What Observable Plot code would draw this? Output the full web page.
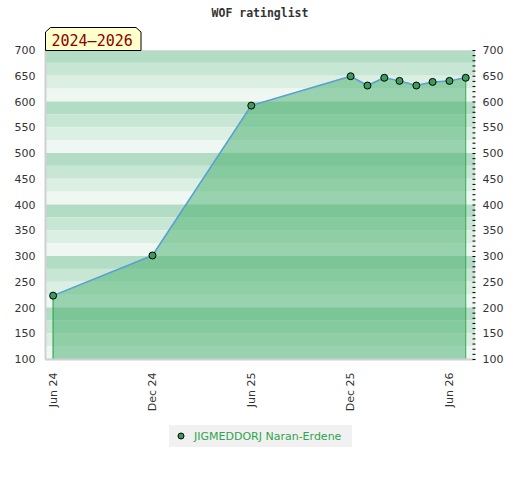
<!DOCTYPE html>
<html>
<head>
<meta charset="utf-8">
<script src="https://cdn.jsdelivr.net/npm/d3@7"></script>
<script src="https://cdn.jsdelivr.net/npm/@observablehq/plot@0.6"></script>
<style>
  html, body { margin: 0; padding: 0; background: #fff; }
  #chart { width: 520px; height: 480px; }
</style>
</head>
<body>
<div id="chart"></div>
<script>
const title = "WOF ratinglist";
const periodLabel = "2024–2026";
const playerName = "JIGMEDDORJ Naran-Erdene";

const months = ["2024-06-01", "2024-12-01", "2025-06-01", "2025-12-01", "2026-01-01",
  "2026-02-01", "2026-03-01", "2026-04-01", "2026-05-01", "2026-06-01", "2026-07-01"];
const ratings = [224, 302, 593, 650, 632, 647, 641, 632, 639, 641, 647];

const xTickDates = ["2024-06-01", "2024-12-01", "2025-06-01", "2025-12-01", "2026-06-01"];
const xTickLabels = ["Jun 24", "Dec 24", "Jun 25", "Dec 25", "Jun 26"];
const yTicks = [100, 150, 200, 250, 300, 350, 400, 450, 500, 550, 600, 650, 700];
const yMinorTicks = d3.range(100, 701, 10);
const bandTops = d3.range(700, 100, -25);
const bandColors = ["#b3dcc4", "#c8e6d4", "#dcefe3", "#eef7f2"];

const data = months.map((m, i) => ({date: new Date(m), rating: ratings[i]}));
const ends = [data[0], data[data.length - 1]];
const xTicks = xTickDates.map((d, i) => ({date: new Date(d), label: xTickLabels[i]}));
const bands = bandTops.map((t, i) => ({top: t, bottom: t - 25, fill: bandColors[i % 4]}));
const xDomain = [new Date("2024-05-18"), new Date("2026-07-19")];

const chart = Plot.plot({
  width: 520,
  height: 480,
  marginTop: 50,
  marginBottom: 121,
  marginLeft: 45,
  marginRight: 45,
  style: {fontFamily: "DejaVu Sans", fontSize: "11px", background: "#fff"},
  x: {type: "utc", domain: xDomain, axis: null},
  y: {domain: [100, 700], axis: null},
  marks: [
    Plot.rect(bands, {y1: "bottom", y2: "top", fill: "fill"}),
    Plot.areaY(data, {x: "date", y1: 100, y2: "rating", fill: "rgb(68,173,105)", fillOpacity: 0.5}),
    Plot.ruleX(ends, {x: "date", y1: 100, y2: "rating", stroke: "#2ea44f", strokeWidth: 1}),
    Plot.line(data, {x: "date", y: "rating", stroke: "#5a9fd8", strokeWidth: 1.5}),
    Plot.dot(data, {x: "date", y: "rating", r: 3.5, fill: "#3a9d5d", stroke: "#000", strokeWidth: 1}),
    Plot.ruleY([100], {stroke: "#d0d0d0", strokeWidth: 2}),
    Plot.ruleY([700], {stroke: "#d8d8d8", strokeWidth: 1}),
    Plot.ruleX([xDomain[0]], {stroke: "#d0d0d0", strokeWidth: 2}),
    Plot.axisY({anchor: "right", ticks: yMinorTicks, tickSize: 3, dx: -3.5, tickFormat: () => "", stroke: "#000"}),
    Plot.text(yTicks, {y: d => d, text: d => String(d), frameAnchor: "left", dx: -10, textAnchor: "end", fill: "#333", fontSize: 11}),
    Plot.text(yTicks, {y: d => d, text: d => String(d), frameAnchor: "right", dx: 7, textAnchor: "start", fill: "#333", fontSize: 11}),
    Plot.text(xTicks, {x: "date", text: "label", frameAnchor: "bottom", dy: 13, rotate: -90, textAnchor: "end", lineAnchor: "middle", fill: "#333", fontSize: 11})
  ]
});

const svg = d3.select(chart);
svg.append("text")
  .attr("x", 260).attr("y", 17)
  .attr("text-anchor", "middle")
  .attr("font-family", "DejaVu Sans Mono").attr("font-weight", "bold").attr("font-size", "11.5px")
  .attr("fill", "#333")
  .text(title);

svg.append("path")
  .attr("d", "M45.5,50.5 V32 L50.5,27.5 H136 L141,32 V50.5 Z")
  .attr("fill", "#ffffcc").attr("stroke", "#000").attr("stroke-width", 1);
svg.append("text")
  .attr("x", 51.5).attr("y", 45.5)
  .attr("text-anchor", "start")
  .attr("font-family", "DejaVu Sans Mono").attr("font-size", "15px")
  .attr("fill", "#8b0000")
  .text(periodLabel);

const lg = svg.append("g");
lg.append("rect").attr("x", 169).attr("y", 425).attr("width", 183).attr("height", 22).attr("fill", "#f1f1f1");
lg.append("circle").attr("cx", 181).attr("cy", 436).attr("r", 3).attr("fill", "#3a9d5d").attr("stroke", "#000").attr("stroke-width", 1);
lg.append("text").attr("x", 194).attr("y", 440)
  .attr("text-anchor", "start")
  .attr("font-family", "DejaVu Sans").attr("font-size", "11px").attr("fill", "#2ea44f")
  .text(playerName);

document.getElementById("chart").appendChild(chart);
</script>
</body>
</html>
